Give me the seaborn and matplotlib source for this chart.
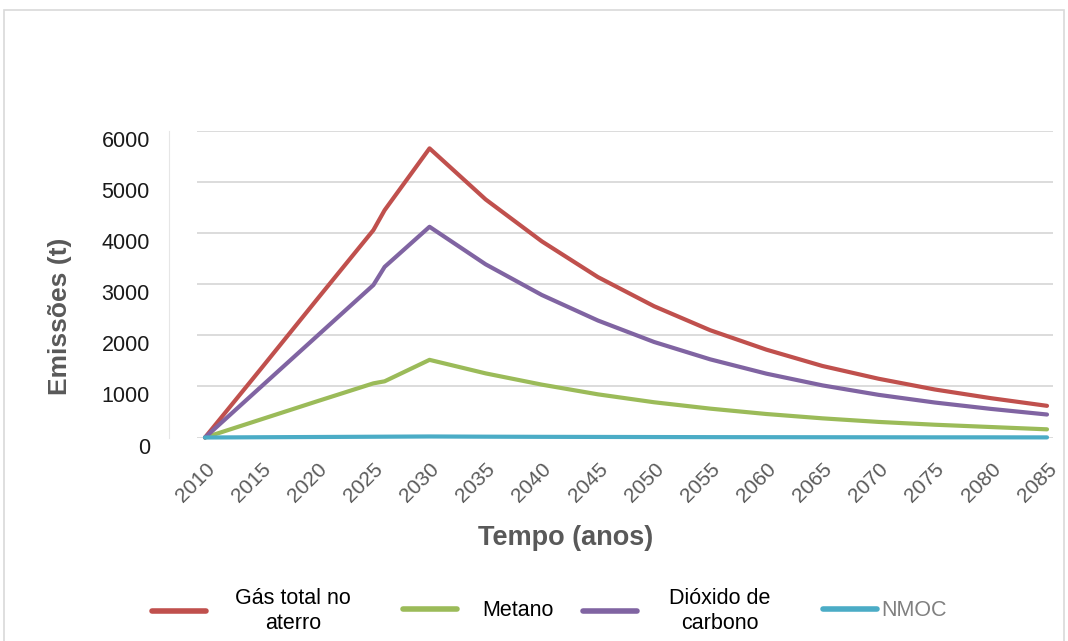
import matplotlib
matplotlib.use("Agg")
import matplotlib.pyplot as plt
import seaborn as sns
import pandas as pd
from matplotlib.patches import Rectangle
from matplotlib.transforms import ScaledTranslation

# ---- data ----
years = [2010, 2015, 2020, 2025, 2026, 2030, 2035, 2040, 2045, 2050,
         2055, 2060, 2065, 2070, 2075, 2080, 2085]
gas_total = [0, 1350, 2710, 4060, 4450, 5660, 4660, 3840, 3140, 2570,
             2100, 1720, 1400, 1150, 940, 770, 620]
metano = [0, 355, 710, 1060, 1100, 1520, 1255, 1035, 845, 690,
          565, 460, 375, 305, 250, 205, 160]
dioxido = [0, 995, 1990, 2985, 3340, 4125, 3390, 2790, 2290, 1870,
           1530, 1250, 1020, 835, 685, 560, 450]
nmoc = [0, 5, 10, 15, 16, 20, 16, 13, 11, 9, 7, 6, 5, 4, 3, 3, 2]

series_names = ["Gás total no\naterro", "Metano", "Dióxido de\ncarbono", "NMOC"]
series_colors = ["#C0504D", "#9BBB59", "#8064A2", "#4BACC6"]
x_ticks = list(range(2010, 2090, 5))
y_ticks = [0, 1000, 2000, 3000, 4000, 5000, 6000]

frames = []
for name, vals in zip(series_names, [gas_total, metano, dioxido, nmoc]):
    frames.append(pd.DataFrame({"Ano": years, "Valor": vals, "Serie": name}))
df = pd.concat(frames, ignore_index=True)

sns.set_theme(style="white")
plt.rcParams["font.family"] = ["Liberation Sans", "DejaVu Sans"]

W, H = 1068, 641
fig = plt.figure(figsize=(W / 100, H / 100), dpi=100)
fig.patch.set_facecolor("white")

# plot area in pixel coords
L, R, T, B = 197, 1053, 131, 437.5
ax = fig.add_axes([L / W, 1 - B / H, (R - L) / W, (B - T) / H])

sns.lineplot(data=df, x="Ano", y="Valor", hue="Serie", hue_order=series_names,
             palette=series_colors, linewidth=3.0, ax=ax, legend=True)
for ln in ax.lines:
    ln.set_clip_on(False)
    ln.set_solid_capstyle("round")

ax.grid(axis="y", color="#d9d9d9", linewidth=1.3)
ax.grid(axis="x", visible=False)
for s in ["top", "right", "bottom"]:
    ax.spines[s].set_visible(False)
ax.spines["left"].set_position(("outward", 20))
ax.spines["left"].set_color("#e6e6e6")
ax.spines["left"].set_linewidth(0.8)

# axes scale
px_per_year = (1047 - 205) / 75.0
ax.set_xlim(2010 - (205 - L) / px_per_year, 2085 + (R - 1047) / px_per_year)
ax.set_ylim(0, 6000)
ax.set_xticks(x_ticks)
ax.set_xticklabels([str(t) for t in x_ticks])
ax.set_yticks(y_ticks)
ax.set_yticklabels([str(t) for t in y_ticks])
ax.tick_params(axis="x", length=0, pad=16, labelsize=15, labelcolor="#595959",
               labelrotation=45)
for lab in ax.get_xticklabels():
    lab.set_ha("right")
    lab.set_rotation_mode("anchor")
ax.tick_params(axis="y", length=3, width=0.8, color="#d9d9d9", pad=11, direction="out",
               labelsize=15.5, labelcolor="#1a1a1a")
ax.set_xlabel("")
ax.set_ylabel("")

# axis titles
fig.text(60 / W, 1 - 316 / H, "Emissões (t)", rotation=90, ha="center", va="center",
         fontsize=19, fontweight="bold", color="#595959")
fig.text(566 / W, 1 - 538 / H, "Tempo (anos)", ha="center", va="center",
         fontsize=19.5, fontweight="bold", color="#595959")

# legend: one entry per box, placed like the reference
handles, labels = ax.get_legend_handles_labels()
ax.get_legend().remove()
entry_x = [152, 403, 583, 823]
text_pad = [1.35, 1.2, 1.5, 0.19]
text_colors = ["#000000", "#000000", "#000000", "#808080"]
for h, lab, x0, tp, tc in zip(handles, labels, entry_x, text_pad, text_colors):
    lg = fig.legend([h], [lab], loc="center left", bbox_to_anchor=(x0 / W, 1 - 611 / H),
                    frameon=False, fontsize=15.5, handlelength=2.5, handletextpad=tp,
                    borderpad=0, borderaxespad=0)
    for ln in lg.get_lines():
        ln.set_linewidth(4.0)
    for t in lg.get_texts():
        t.set_multialignment("center")
        t.set_color(tc)

# outer chart border
fig.patches.append(Rectangle((4 / W, -0.02), (1064 - 4) / W, 1.02 - 10 / H,
                             transform=fig.transFigure, fill=False,
                             edgecolor="#d9d9d9", linewidth=1.2))

# y tick labels sit slightly below their gridlines, as in the reference
shift = ScaledTranslation(0, -0.08, fig.dpi_scale_trans)
for tk in ax.yaxis.get_major_ticks():
    tk.label1.set_transform(tk.label1.get_transform() + shift)

fig.savefig("out.png", dpi=100, facecolor="white")
